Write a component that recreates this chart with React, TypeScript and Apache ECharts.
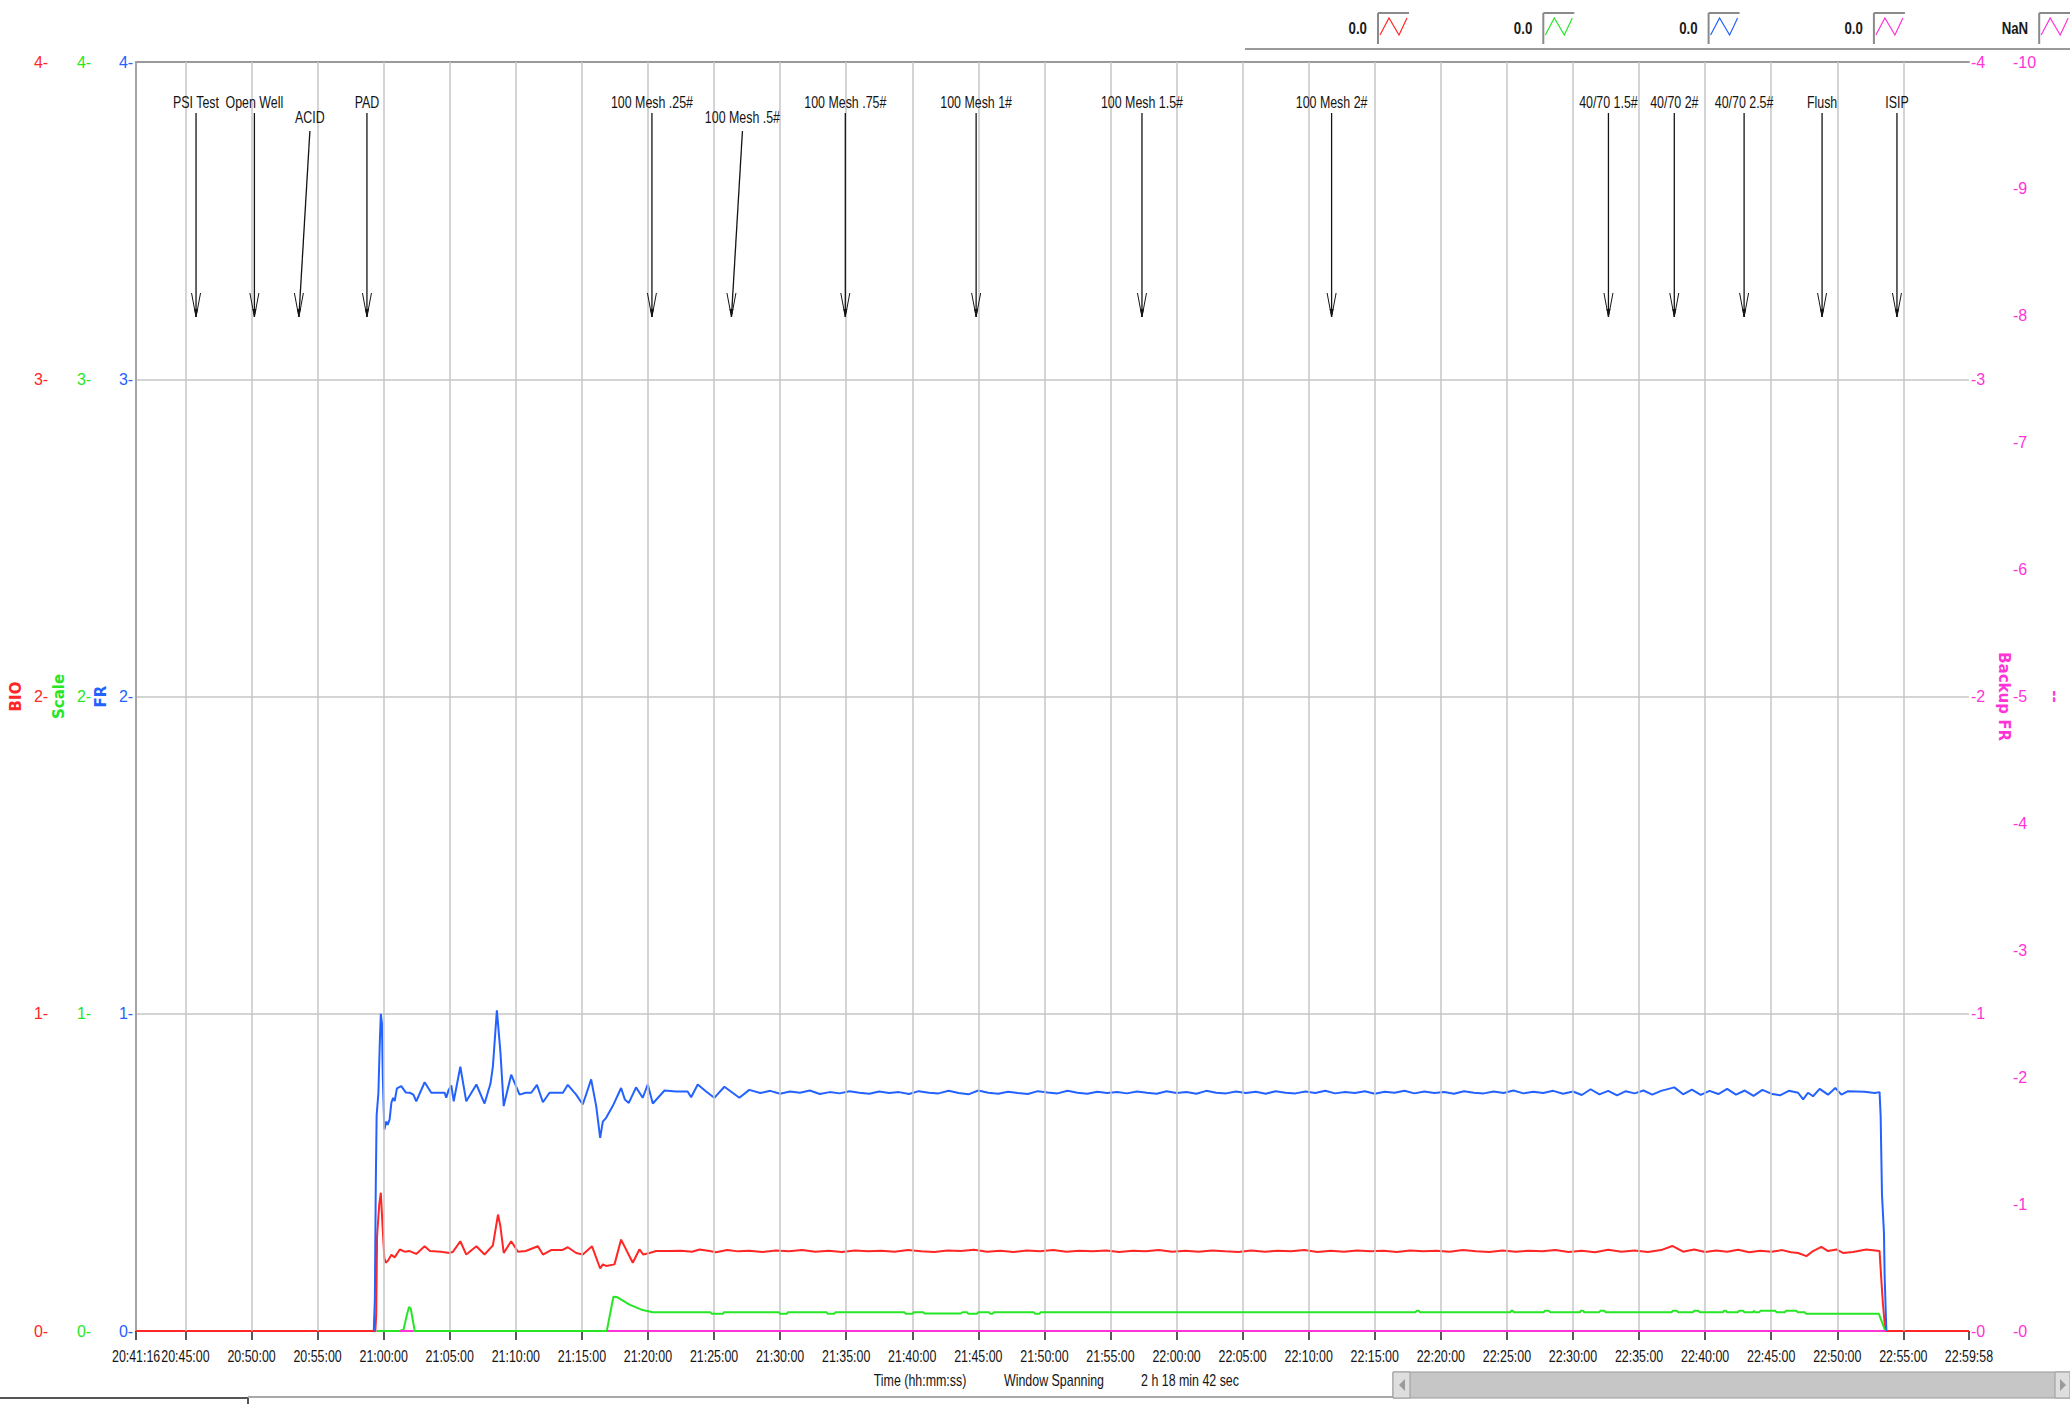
import React, { useEffect, useRef } from "react";
import * as echarts from "echarts";

const NARROW = "'Liberation Sans', Arial, sans-serif";
const BOLDF = "'DejaVu Sans', Verdana, sans-serif";
const SQUEEZE = 0.73;
const TEXT_SIZE = 17;

const C_RED = "#ff2626";
const C_GREEN = "#26e626";
const C_BLUE = "#2462ff";
const C_PINK = "#ff33d6";

const X_TICK_LABELS = [
  "20:41:16", "20:45:00", "20:50:00", "20:55:00", "21:00:00", "21:05:00", "21:10:00", "21:15:00",
  "21:20:00", "21:25:00", "21:30:00", "21:35:00", "21:40:00", "21:45:00", "21:50:00", "21:55:00",
  "22:00:00", "22:05:00", "22:10:00", "22:15:00", "22:20:00", "22:25:00", "22:30:00", "22:35:00",
  "22:40:00", "22:45:00", "22:50:00", "22:55:00", "22:59:58",
];
const X_GRID_TIMES = [
  "20:45:00", "20:50:00", "20:55:00", "21:00:00", "21:05:00", "21:10:00", "21:15:00",
  "21:20:00", "21:25:00", "21:30:00", "21:35:00", "21:40:00", "21:45:00", "21:50:00", "21:55:00",
  "22:00:00", "22:05:00", "22:10:00", "22:15:00", "22:20:00", "22:25:00", "22:30:00", "22:35:00",
  "22:40:00", "22:45:00", "22:50:00", "22:55:00",
];

const EVENT_TIMES = ["20:45:48", "20:50:13", "20:53:35", "20:58:44", "21:20:18", "21:26:19", "21:34:56", "21:44:50", "21:57:23", "22:11:44", "22:32:41", "22:37:40", "22:42:57", "22:48:51", "22:54:31"];
const EVENT_LABELS = ["PSI Test", "Open Well", "ACID", "PAD", "100 Mesh .25#", "100 Mesh .5#", "100 Mesh .75#", "100 Mesh 1#", "100 Mesh 1.5#", "100 Mesh 2#", "40/70 1.5#", "40/70 2#", "40/70 2.5#", "Flush", "ISIP"];
const LOWERED_EVENTS = ["ACID", "100 Mesh .5#"];

const LEGEND_VALUES = ["0.0", "0.0", "0.0", "0.0", "NaN"];

const BIO: [string, number][] = [
  ["20:41:16", 0], ["20:59:22", 0], ["20:59:26", 0.05], ["20:59:30", 0.3], ["20:59:40", 0.4], ["20:59:47", 0.436],
  ["20:59:55", 0.33], ["21:00:03", 0.23], ["21:00:09", 0.215], ["21:00:20", 0.222], ["21:00:35", 0.24], ["21:00:50", 0.232],
  ["21:01:13", 0.257], ["21:01:35", 0.25], ["21:01:58", 0.252], ["21:02:28", 0.243], ["21:03:06", 0.267], ["21:03:30", 0.252],
  ["21:04:20", 0.25], ["21:04:59", 0.246], ["21:05:15", 0.25], ["21:05:48", 0.283], ["21:06:15", 0.241], ["21:07:01", 0.267],
  ["21:07:38", 0.241], ["21:08:16", 0.27], ["21:08:39", 0.367], ["21:08:50", 0.33], ["21:09:05", 0.246], ["21:09:39", 0.283],
  ["21:10:10", 0.25], ["21:10:45", 0.252], ["21:11:40", 0.267], ["21:12:03", 0.241], ["21:12:40", 0.255], ["21:13:30", 0.255],
  ["21:13:56", 0.264], ["21:14:34", 0.246], ["21:15:04", 0.241], ["21:15:46", 0.267], ["21:16:23", 0.197], ["21:16:35", 0.21],
  ["21:16:50", 0.205], ["21:17:28", 0.21], ["21:17:58", 0.288], ["21:18:51", 0.215], ["21:19:21", 0.257], ["21:19:39", 0.241],
  ["21:20:07", 0.246], ["21:20:37", 0.252], ["21:21:30", 0.252], ["21:22:30", 0.253], ["21:23:20", 0.25], ["21:23:54", 0.257],
  ["21:24:40", 0.252], ["21:25:09", 0.248], ["21:26:00", 0.255], ["21:26:50", 0.251], ["21:27:40", 0.253], ["21:28:40", 0.249],
  ["21:29:40", 0.254], ["21:30:40", 0.251], ["21:31:40", 0.255], ["21:32:40", 0.25], ["21:33:40", 0.253], ["21:34:40", 0.249],
  ["21:35:40", 0.254], ["21:36:40", 0.251], ["21:37:40", 0.253], ["21:38:40", 0.25], ["21:39:40", 0.255], ["21:40:40", 0.251],
  ["21:41:40", 0.249], ["21:42:40", 0.254], ["21:43:40", 0.252], ["21:44:40", 0.256], ["21:45:40", 0.25], ["21:46:40", 0.253],
  ["21:47:40", 0.249], ["21:48:40", 0.254], ["21:49:40", 0.251], ["21:50:40", 0.255], ["21:51:40", 0.25], ["21:52:40", 0.253],
  ["21:53:40", 0.251], ["21:54:40", 0.254], ["21:55:40", 0.249], ["21:56:40", 0.253], ["21:57:40", 0.251], ["21:58:40", 0.255],
  ["21:59:40", 0.25], ["22:00:40", 0.253], ["22:01:40", 0.25], ["22:02:40", 0.254], ["22:03:40", 0.251], ["22:04:40", 0.249],
  ["22:05:40", 0.254], ["22:06:40", 0.25], ["22:07:40", 0.253], ["22:08:40", 0.251], ["22:09:40", 0.255], ["22:10:40", 0.249],
  ["22:11:40", 0.253], ["22:12:40", 0.25], ["22:13:40", 0.254], ["22:14:40", 0.251], ["22:15:40", 0.253], ["22:16:40", 0.249],
  ["22:17:40", 0.254], ["22:18:40", 0.251], ["22:19:40", 0.253], ["22:20:40", 0.25], ["22:21:40", 0.255], ["22:22:40", 0.251],
  ["22:23:40", 0.249], ["22:24:40", 0.254], ["22:25:40", 0.25], ["22:26:40", 0.253], ["22:27:40", 0.251], ["22:28:40", 0.255],
  ["22:29:40", 0.249], ["22:30:40", 0.253], ["22:31:40", 0.248], ["22:32:40", 0.256], ["22:33:40", 0.25], ["22:34:40", 0.254],
  ["22:35:40", 0.249], ["22:36:40", 0.255], ["22:37:31", 0.268], ["22:38:20", 0.25], ["22:39:10", 0.257], ["22:40:00", 0.249],
  ["22:40:50", 0.254], ["22:41:40", 0.25], ["22:42:30", 0.256], ["22:43:20", 0.248], ["22:44:10", 0.253], ["22:45:00", 0.25],
  ["22:45:50", 0.255], ["22:46:30", 0.248], ["22:47:02", 0.246], ["22:47:40", 0.236], ["22:48:10", 0.252], ["22:48:48", 0.265],
  ["22:49:18", 0.252], ["22:49:56", 0.257], ["22:50:26", 0.246], ["22:51:11", 0.249], ["22:52:12", 0.257], ["22:53:12", 0.252],
  ["22:53:20", 0.162], ["22:53:27", 0.089], ["22:53:38", 0], ["22:59:58", 0],
];

const SCALE: [string, number][] = [
  ["20:59:30", 0], ["21:01:13", 0], ["21:01:30", 0.004], ["21:01:45", 0.05], ["21:01:55", 0.076], ["21:02:03", 0.07],
  ["21:02:21", 0], ["21:16:53", 0], ["21:17:23", 0.108], ["21:17:40", 0.107], ["21:18:36", 0.083], ["21:19:36", 0.066],
  ["21:20:22", 0.059], ["21:24:44", 0.059], ["21:24:50", 0.054], ["21:25:40", 0.054], ["21:25:45", 0.059], ["21:29:54", 0.059],
  ["21:30:00", 0.054], ["21:30:30", 0.054], ["21:30:35", 0.059], ["21:33:31", 0.059], ["21:33:37", 0.054], ["21:34:05", 0.054],
  ["21:34:11", 0.059], ["21:39:25", 0.059], ["21:39:31", 0.054], ["21:40:00", 0.054], ["21:40:06", 0.059], ["21:40:50", 0.059],
  ["21:40:56", 0.055], ["21:43:40", 0.055], ["21:43:48", 0.059], ["21:44:09", 0.059], ["21:44:15", 0.054], ["21:44:53", 0.054],
  ["21:44:59", 0.059], ["21:45:49", 0.059], ["21:45:55", 0.054], ["21:46:04", 0.054], ["21:46:10", 0.059], ["21:49:12", 0.059],
  ["21:49:18", 0.054], ["21:49:37", 0.054], ["21:49:43", 0.059], ["22:18:05", 0.059], ["22:18:10", 0.064], ["22:18:20", 0.064],
  ["22:18:25", 0.059], ["22:25:16", 0.059], ["22:25:20", 0.064], ["22:25:27", 0.064], ["22:25:31", 0.059], ["22:27:47", 0.059],
  ["22:27:52", 0.064], ["22:28:11", 0.064], ["22:28:16", 0.059], ["22:30:32", 0.059], ["22:30:36", 0.064], ["22:30:47", 0.064],
  ["22:30:51", 0.059], ["22:31:59", 0.059], ["22:32:04", 0.064], ["22:32:23", 0.064], ["22:32:28", 0.059], ["22:37:28", 0.059],
  ["22:37:33", 0.064], ["22:37:52", 0.064], ["22:37:57", 0.059], ["22:39:05", 0.059], ["22:39:10", 0.064], ["22:39:30", 0.064],
  ["22:39:35", 0.059], ["22:41:21", 0.059], ["22:41:26", 0.064], ["22:41:35", 0.064], ["22:41:40", 0.059], ["22:42:29", 0.059],
  ["22:42:34", 0.064], ["22:42:53", 0.064], ["22:42:58", 0.059], ["22:43:37", 0.059], ["22:43:42", 0.064], ["22:43:47", 0.059],
  ["22:44:06", 0.059], ["22:44:11", 0.064], ["22:45:19", 0.064], ["22:45:24", 0.059], ["22:46:02", 0.059], ["22:46:07", 0.064],
  ["22:46:55", 0.064], ["22:47:00", 0.059], ["22:47:33", 0.059], ["22:47:39", 0.054], ["22:53:09", 0.054], ["22:53:38", 0],
];

const FR: [string, number][] = [
  ["20:59:15", 0], ["20:59:20", 0.1], ["20:59:24", 0.45], ["20:59:28", 0.68], ["20:59:36", 0.75], ["20:59:42", 0.9],
  ["20:59:47", 1.0], ["20:59:52", 0.97], ["20:59:56", 0.8], ["21:00:03", 0.635], ["21:00:12", 0.66], ["21:00:18", 0.65],
  ["21:00:27", 0.667], ["21:00:35", 0.72], ["21:00:43", 0.735], ["21:00:50", 0.725], ["21:01:00", 0.765], ["21:01:20", 0.772],
  ["21:01:40", 0.752], ["21:01:58", 0.751], ["21:02:15", 0.745], ["21:02:28", 0.724], ["21:03:06", 0.784], ["21:03:36", 0.751],
  ["21:04:10", 0.751], ["21:04:37", 0.751], ["21:04:44", 0.735], ["21:04:55", 0.76], ["21:05:07", 0.774], ["21:05:18", 0.724],
  ["21:05:48", 0.833], ["21:06:15", 0.724], ["21:07:01", 0.777], ["21:07:38", 0.717], ["21:08:05", 0.78], ["21:08:16", 0.835],
  ["21:08:34", 1.011], ["21:08:50", 0.88], ["21:09:05", 0.709], ["21:09:39", 0.808], ["21:10:17", 0.745], ["21:10:45", 0.751],
  ["21:11:10", 0.751], ["21:11:36", 0.776], ["21:12:03", 0.721], ["21:12:33", 0.751], ["21:13:34", 0.751], ["21:13:56", 0.776],
  ["21:14:34", 0.745], ["21:15:04", 0.714], ["21:15:42", 0.793], ["21:16:05", 0.709], ["21:16:23", 0.609], ["21:16:35", 0.66],
  ["21:16:50", 0.672], ["21:17:20", 0.709], ["21:17:58", 0.766], ["21:18:15", 0.73], ["21:18:33", 0.719], ["21:19:06", 0.768],
  ["21:19:36", 0.735], ["21:19:59", 0.777], ["21:20:22", 0.717], ["21:21:15", 0.758], ["21:22:08", 0.755], ["21:23:00", 0.755],
  ["21:23:16", 0.737], ["21:23:46", 0.777], ["21:24:24", 0.755], ["21:25:01", 0.735], ["21:25:47", 0.77], ["21:26:55", 0.735],
  ["21:27:40", 0.76], ["21:28:30", 0.75], ["21:29:15", 0.757], ["21:30:00", 0.748], ["21:30:45", 0.755], ["21:31:30", 0.751],
  ["21:32:15", 0.758], ["21:33:00", 0.747], ["21:33:45", 0.753], ["21:34:30", 0.749], ["21:35:15", 0.756], ["21:36:00", 0.751],
  ["21:36:45", 0.748], ["21:37:30", 0.755], ["21:38:15", 0.75], ["21:39:00", 0.753], ["21:39:45", 0.747], ["21:40:30", 0.756],
  ["21:41:15", 0.751], ["21:42:00", 0.749], ["21:42:45", 0.757], ["21:43:30", 0.75], ["21:44:15", 0.746], ["21:45:00", 0.758],
  ["21:45:45", 0.751], ["21:46:30", 0.748], ["21:47:15", 0.754], ["21:48:00", 0.75], ["21:48:45", 0.747], ["21:49:30", 0.756],
  ["21:50:15", 0.752], ["21:51:00", 0.749], ["21:51:45", 0.757], ["21:52:30", 0.751], ["21:53:15", 0.748], ["21:54:00", 0.754],
  ["21:54:45", 0.75], ["21:55:30", 0.753], ["21:56:15", 0.749], ["21:57:00", 0.755], ["21:57:45", 0.751], ["21:58:30", 0.748],
  ["21:59:15", 0.756], ["22:00:00", 0.75], ["22:00:45", 0.753], ["22:01:30", 0.748], ["22:02:15", 0.757], ["22:03:00", 0.751],
  ["22:03:45", 0.749], ["22:04:30", 0.755], ["22:05:15", 0.75], ["22:06:00", 0.754], ["22:06:45", 0.748], ["22:07:30", 0.756],
  ["22:08:15", 0.751], ["22:09:00", 0.749], ["22:09:45", 0.755], ["22:10:30", 0.75], ["22:11:15", 0.757], ["22:12:00", 0.749],
  ["22:12:45", 0.753], ["22:13:30", 0.75], ["22:14:15", 0.756], ["22:15:00", 0.748], ["22:15:45", 0.754], ["22:16:30", 0.751],
  ["22:17:15", 0.757], ["22:18:00", 0.749], ["22:18:45", 0.755], ["22:19:30", 0.75], ["22:20:15", 0.753], ["22:21:00", 0.748],
  ["22:21:45", 0.756], ["22:22:30", 0.751], ["22:23:15", 0.749], ["22:24:00", 0.755], ["22:24:45", 0.75], ["22:25:30", 0.758],
  ["22:26:15", 0.749], ["22:27:00", 0.754], ["22:27:45", 0.75], ["22:28:30", 0.757], ["22:29:15", 0.748], ["22:30:00", 0.755],
  ["22:30:40", 0.744], ["22:31:20", 0.762], ["22:32:00", 0.746], ["22:32:40", 0.757], ["22:33:20", 0.743], ["22:34:00", 0.756],
  ["22:34:40", 0.749], ["22:35:20", 0.758], ["22:36:00", 0.745], ["22:36:40", 0.757], ["22:37:40", 0.768], ["22:38:20", 0.746],
  ["22:39:00", 0.761], ["22:39:40", 0.744], ["22:40:20", 0.757], ["22:41:00", 0.747], ["22:41:40", 0.763], ["22:42:20", 0.745],
  ["22:43:00", 0.758], ["22:43:40", 0.741], ["22:44:20", 0.76], ["22:45:00", 0.748], ["22:45:40", 0.743], ["22:46:20", 0.757],
  ["22:47:02", 0.751], ["22:47:25", 0.73], ["22:47:47", 0.751], ["22:48:10", 0.74], ["22:48:40", 0.763], ["22:49:18", 0.745],
  ["22:49:51", 0.766], ["22:50:19", 0.745], ["22:50:49", 0.756], ["22:52:04", 0.754], ["22:52:50", 0.75], ["22:53:12", 0.753],
  ["22:53:17", 0.677], ["22:53:20", 0.551], ["22:53:23", 0.43], ["22:53:32", 0.309], ["22:53:35", 0.173], ["22:53:43", 0],
];

const BACKUP_FR_SEG1: [string, number][] = [["21:01:13", 0], ["21:02:15", 0]];
const BACKUP_FR_SEG2: [string, number][] = [["21:16:55", 0], ["22:53:38", 0]];

const LEFT_MAX = 4;
const RIGHT2_MAX = 10;

const sec = (s: string) => {
  const [h, m, x] = s.split(":").map(Number);
  return h * 3600 + m * 60 + x;
};
const toXY = (arr: [string, number][]) => arr.map(([t, v]) => [sec(t), v]);

const T0 = sec(X_TICK_LABELS[0]);
const T1 = sec(X_TICK_LABELS[X_TICK_LABELS.length - 1]);

const narrowText = (text: string, x: number, y: number, opts: any = {}) => ({
  type: "text", x, y, scaleX: opts.scaleX ?? SQUEEZE, scaleY: 1,
  style: {
    text, x: 0, y: 0,
    fill: opts.fill ?? "#151515",
    font: `${opts.weight ?? "normal"} ${opts.size ?? TEXT_SIZE}px ${NARROW}`,
    align: opts.align ?? "center", verticalAlign: "middle",
  },
});

function buildOption() {
  const legendColors = [C_RED, C_GREEN, C_BLUE, C_PINK, C_PINK];
  const legendGraphics: any[] = [];
  LEGEND_VALUES.forEach((val, i) => {
    const bx = 1378 + i * 165.3;
    legendGraphics.push(narrowText(val, bx - 11, 28, { weight: "bold", align: "right", scaleX: 0.78, fill: "#1a1a1a" }));
    legendGraphics.push({ type: "line", shape: { x1: bx, y1: 13, x2: bx + 31, y2: 13 }, style: { stroke: "#8a8a8a", lineWidth: 2 } });
    legendGraphics.push({ type: "line", shape: { x1: bx, y1: 13, x2: bx, y2: 44 }, style: { stroke: "#8a8a8a", lineWidth: 2 } });
    legendGraphics.push({
      type: "polyline",
      shape: { points: [[bx + 2, 35], [bx + 11, 18], [bx + 21, 35], [bx + 29, 18]] },
      style: { stroke: legendColors[i], lineWidth: 1.2, fill: null },
    });
  });

  const graphic: any[] = [
    ...legendGraphics,
    { type: "line", shape: { x1: 1245, y1: 49, x2: 2070, y2: 49 }, style: { stroke: "#9a9a9a", lineWidth: 2 } },
    narrowText("Time (hh:mm:ss)", 920, 1380),
    narrowText("Window Spanning", 1054, 1380),
    narrowText("2 h 18 min 42 sec", 1190, 1380),
    { type: "line", shape: { x1: 0, y1: 1398, x2: 248, y2: 1398 }, style: { stroke: "#555", lineWidth: 2 } },
    { type: "line", shape: { x1: 248, y1: 1398, x2: 248, y2: 1404 }, style: { stroke: "#555", lineWidth: 2 } },
    { type: "line", shape: { x1: 248, y1: 1397, x2: 1393, y2: 1397 }, style: { stroke: "#a8a8a8", lineWidth: 2 } },
    { type: "rect", shape: { x: 1393, y: 1372, width: 677, height: 26 }, style: { fill: "#c6c6c6", stroke: "#9a9a9a", lineWidth: 1 } },
    { type: "rect", shape: { x: 1393, y: 1372, width: 17, height: 26 }, style: { fill: "#dedede", stroke: "#9a9a9a", lineWidth: 1 } },
    { type: "polygon", shape: { points: [[1405, 1379], [1399, 1385], [1405, 1391]] }, style: { fill: "#9a9a9a" } },
    { type: "rect", shape: { x: 2055, y: 1372, width: 15, height: 26 }, style: { fill: "#dedede", stroke: "#9a9a9a", lineWidth: 1 } },
    { type: "polygon", shape: { points: [[2060, 1379], [2066, 1385], [2060, 1391]] }, style: { fill: "#9a9a9a" } },
  ];

  const leftAxis = (color: string, name: string, offset: number, showLine: boolean, margin: number) => ({
    type: "value", position: "left", offset, min: 0, max: LEFT_MAX, interval: 1,
    name, nameLocation: "middle", nameGap: 17,
    nameTextStyle: { color, fontWeight: "bold", fontSize: 15, fontFamily: BOLDF },
    axisLine: { show: showLine, onZero: false, lineStyle: { color: "#a4a4a4", width: 2 } },
    axisTick: { show: false },
    axisLabel: { color, fontSize: 16, fontFamily: NARROW, margin, formatter: (v: number) => `${v}-` },
    splitLine: showLine ? { show: true, lineStyle: { color: "#c6c6c6", width: 1.5 } } : { show: false },
  });

  const lineSeries = (name: string, data: any[], color: string, yAxisIndex: number, z: number) => ({
    type: "line", name, data, xAxisIndex: 0, yAxisIndex, z,
    showSymbol: false, symbol: "none", smooth: false, connectNulls: false,
    lineStyle: { color, width: 2 }, emphasis: { disabled: true }, silent: true,
  });

  return {
    animation: false,
    backgroundColor: "#ffffff",
    grid: { left: 136, right: 99, top: 62, bottom: 73, containLabel: false },
    xAxis: [
      {
        type: "value", min: T0, max: T1, position: "bottom",
        axisLine: { show: true, onZero: false, lineStyle: { color: "#a4a4a4", width: 1 } },
        axisTick: { show: true, customValues: X_TICK_LABELS.map(sec), length: 9, lineStyle: { color: "#222", width: 1.5 } },
        axisLabel: { show: false },
        splitLine: { show: false },
      },
      {
        type: "value", min: T0, max: T1, position: "top",
        axisLine: { show: true, onZero: false, lineStyle: { color: "#9a9a9a", width: 2 } },
        axisTick: { show: false }, axisLabel: { show: false }, splitLine: { show: false },
      },
    ],
    yAxis: [
      leftAxis(C_RED, "BIO", 86, false, 2),
      leftAxis(C_GREEN, "Scale", 43, false, 2),
      leftAxis(C_BLUE, "FR", 0, true, 3),
      {
        type: "value", position: "right", offset: 0, min: 0, max: LEFT_MAX, interval: 1,
        name: "Backup FR", nameLocation: "middle", nameGap: 21, nameRotate: -90,
        nameTextStyle: { color: C_PINK, fontWeight: "bold", fontSize: 15, fontFamily: BOLDF },
        axisLine: { show: false }, axisTick: { show: false },
        axisLabel: { color: C_PINK, fontSize: 16, fontFamily: NARROW, margin: 2, formatter: (v: number) => `-${v}` },
        splitLine: { show: false },
      },
      {
        type: "value", position: "right", offset: 42, min: 0, max: RIGHT2_MAX, interval: 1,
        name: "--", nameLocation: "middle", nameGap: 30, nameRotate: -90,
        nameTextStyle: { color: C_PINK, fontWeight: "bold", fontSize: 15, fontFamily: BOLDF },
        axisLine: { show: false }, axisTick: { show: false },
        axisLabel: { color: C_PINK, fontSize: 16, fontFamily: NARROW, margin: 2, formatter: (v: number) => `-${v}` },
        splitLine: { show: false },
      },
    ],
    graphic,
    series: [
      {
        type: "line", name: "vgrid", xAxisIndex: 0, yAxisIndex: 2, z: 1, silent: true,
        data: [[T0, 0], [T1, 0]], symbol: "none", lineStyle: { opacity: 0 },
        markLine: {
          silent: true, symbol: ["none", "none"], label: { show: false }, animation: false,
          lineStyle: { color: "#c6c6c6", width: 1.5, type: "solid" },
          emphasis: { disabled: true },
          data: X_GRID_TIMES.map((t) => ({ xAxis: sec(t) })),
        },
      },
      lineSeries("BIO", toXY(BIO), C_RED, 0, 3),
      lineSeries("FR", toXY(FR), C_BLUE, 2, 4),
      lineSeries("Scale", toXY(SCALE), C_GREEN, 1, 5),
      lineSeries("Backup FR", toXY(BACKUP_FR_SEG1), C_PINK, 3, 6),
      lineSeries("Backup FR 2", toXY(BACKUP_FR_SEG2), C_PINK, 3, 6),
      {
        type: "custom", name: "xlabels", xAxisIndex: 0, yAxisIndex: 2, z: 10, silent: true, clip: false,
        data: X_TICK_LABELS.map((t, i) => [sec(t), 0, i]),
        renderItem: (params: any, api: any) => {
          const idx = api.value(2);
          const p = api.coord([api.value(0), 0]);
          return narrowText(X_TICK_LABELS[idx], p[0], p[1] + 25, { fill: "#151515" });
        },
      },
      {
        type: "custom", name: "events", xAxisIndex: 0, yAxisIndex: 2, z: 10, silent: true, clip: false,
        data: EVENT_TIMES.map((t, i) => [sec(t), 0, i]),
        renderItem: (params: any, api: any) => {
          const idx = api.value(2);
          const label = EVENT_LABELS[idx];
          const x = api.coord([api.value(0), 0])[0];
          const low = LOWERED_EVENTS.includes(label);
          const tx = low ? x + 11 : x;
          const ty = low ? 117 : 102;
          const y0 = low ? 131 : 113;
          const tip = 317;
          return {
            type: "group",
            children: [
              narrowText(label, tx, ty, { fill: "#141414" }),
              { type: "line", shape: { x1: tx, y1: y0, x2: x, y2: tip }, style: { stroke: "#141414", lineWidth: 1.3 } },
              { type: "polyline", shape: { points: [[x - 4.5, tip - 24], [x, tip], [x + 4.5, tip - 24]] }, style: { stroke: "#141414", lineWidth: 1, fill: null } },
              { type: "polygon", shape: { points: [[x - 2, tip - 8], [x, tip], [x + 2, tip - 8]] }, style: { fill: "#141414" } },
            ],
          };
        },
      },
    ],
  };
}

export default function App() {
  const ref = useRef<HTMLDivElement>(null);
  useEffect(() => {
    document.body.style.margin = "0";
    if (!ref.current) return;
    const chart = echarts.init(ref.current, undefined, { renderer: "svg" });
    chart.setOption(buildOption() as any);
    return () => chart.dispose();
  }, []);
  return <div ref={ref} style={{ width: 2070, height: 1404, background: "#fff" }} />;
}
